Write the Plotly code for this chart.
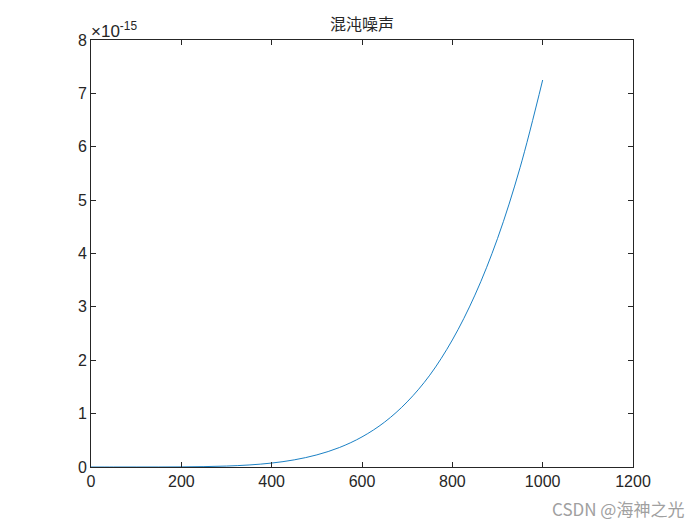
import plotly.graph_objects as go

# Data (y in units of 1e-15)
x_vals = [0, 50, 100, 150, 200, 250, 300, 350, 400, 450, 500, 550, 600, 650, 700,
          750, 800, 850, 900, 950, 1000]
y_vals = [0.0, 0.0, 0.0001, 0.0006, 0.0023, 0.0071, 0.0176, 0.038, 0.074, 0.134,
          0.227, 0.365, 0.564, 0.841, 1.22, 1.72, 2.38, 3.22, 4.28, 5.61, 7.25]
x_ticks = [0, 200, 400, 600, 800, 1000, 1200]
y_ticks = [0, 1, 2, 3, 4, 5, 6, 7, 8]
title_text = "混沌噪声"
exp_label = "×10<sup>-15</sup>"
watermark = "CSDN @海神之光"

fig = go.Figure()
fig.add_trace(go.Scatter(x=x_vals, y=y_vals, mode="lines",
                         line=dict(color="#0072BD", width=0.9, shape="spline"),
                         showlegend=False))

axis_common = dict(showgrid=False, zeroline=False, showline=True, mirror="ticks",
                   linecolor="#262626", linewidth=1, ticks="inside", ticklen=5,
                   tickcolor="#262626",
                   tickfont=dict(family="Liberation Sans, Arial", size=16, color="#262626"))

# page body has an 8px default margin, so the figure is sized to fit inside 700x525
fig.update_layout(
    width=692, height=517,
    paper_bgcolor="white", plot_bgcolor="white",
    margin=dict(l=83, r=67, t=32, b=58),
    title=dict(text=title_text, x=0.5, xref="paper", xanchor="center",
               y=1 - 16 / 517, yanchor="middle",
               font=dict(family="Noto Sans CJK SC", size=16, color="#262626")),
    xaxis=dict(range=[0, 1200], tickvals=x_ticks, **axis_common),
    yaxis=dict(range=[0, 8], tickvals=y_ticks, **axis_common),
    annotations=[
        dict(text=exp_label, xref="paper", yref="paper", x=0, y=1, xanchor="left",
             yanchor="bottom", showarrow=False, yshift=-3, xshift=-2,
             font=dict(family="Liberation Sans, Arial", size=17, color="#262626")),
        dict(text=watermark, xref="paper", yref="paper", x=1, y=0, xanchor="right",
             yanchor="middle", showarrow=False, xshift=53, yshift=-41,
             font=dict(family="Noto Sans CJK SC", size=17, color="#A0A0A0")),
    ],
)

fig.write_html("out.html")
